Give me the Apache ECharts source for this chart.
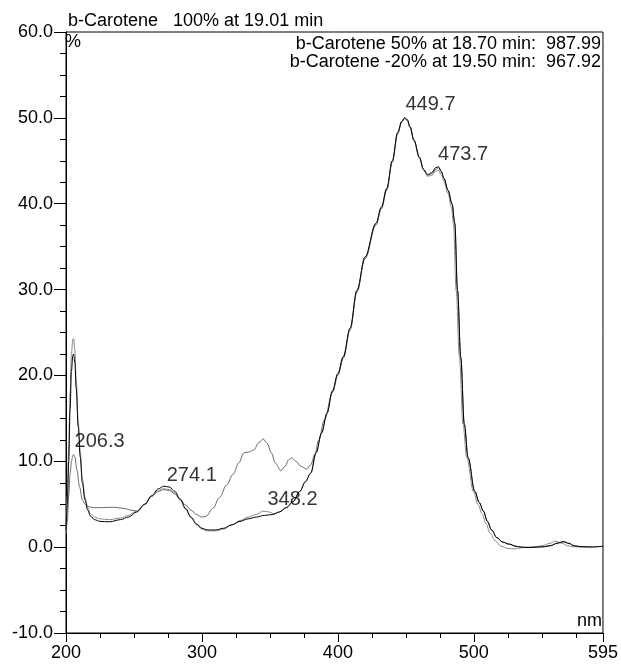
<!DOCTYPE html>
<html>
<head>
<meta charset="utf-8">
<script src="https://cdn.jsdelivr.net/npm/echarts@6/dist/echarts.min.js"></script>
<style>
html,body{margin:0;padding:0;background:#fff;}
#chart{width:621px;height:668px;}
</style>
</head>
<body>
<div id="chart"></div>
<script>
// Wavelength (nm) and absorbance (%) for the three spectra
const aNm  = [200,201,202,203,204,205,205.6,206.5,207.5,209,210.5,212,214,216,218,221,225,232,240,246,252,258,263,268,272,276,280,284,288,292,296,300,304,310,316,322,328,334,340,346,352,357,362,367,372,376,380,384,388,392,396,400,404,409,414,420,428,432,436,440,444,447,449,451,453,456,460,463,466,469,472,474,476,478,481,484,486,488,490.4,493,495.8,500.7,504,507,510,513,517,521,526,531,535,540,546,552,557,561,566,570,574,579,586,595];
const aVal = [2.0,5,10,16,20.5,22.3,22.5,21.5,18.5,14,10.5,7.5,5.5,4.3,3.6,3.2,3.0,2.95,3.2,3.5,4.1,5.0,6.0,6.8,7.1,7.0,6.5,5.6,4.5,3.5,2.7,2.2,2.0,2.0,2.2,2.6,3.0,3.3,3.5,3.7,3.8,4.1,4.6,5.3,6.5,7.6,8.6,11.0,13.3,15.6,18.2,20.2,22.2,25.5,29.9,33.8,37.7,39.6,41.8,45.0,48.3,49.6,50.0,49.8,49.0,47.4,45.4,44.0,43.4,43.6,44.2,44.3,43.8,43.0,41.6,40.0,37.7,29.9,22.1,14.3,10.4,6.5,5.2,4.2,3.0,2.0,1.1,0.6,0.35,0.1,0.0,-0.05,0.0,0.05,0.2,0.45,0.65,0.45,0.15,0.05,0.02,0.1];

const bNm  = [200,201,202,203,204,205,205.6,206.5,207.5,209,210.5,212,214,216,218,221,225,232,240,246,252,258,263,268,272,276,280,284,288,292,296,300,304,310,316,322,328,334,340,345,349,353,357,362,367,372,376,380,384,388,392,396,400,404,409,414,420,428,432,436,440,444,447,449,451,453,456,460,463,466,469,472,474,476,478,481,483.5,485,487,489.4,492,494.8,499.7,503,506,509,512,516,520,525,530,534,539,545,551,556,560,565,569,573,578,586,595];
const bVal = [2.0,6,12,18,22.5,24.2,24.3,23.0,19.5,14.5,11.0,8.0,5.8,4.6,3.9,3.5,3.3,3.2,3.4,3.7,4.2,5.0,5.9,6.6,6.8,6.7,6.3,5.5,4.4,3.4,2.6,2.1,1.9,1.9,2.1,2.6,3.1,3.5,3.8,4.2,4.1,3.9,4.1,4.6,5.3,6.5,7.6,8.6,11.0,13.3,15.6,18.2,20.2,22.2,25.5,29.9,33.8,37.7,39.6,41.8,45.0,48.3,49.6,50.0,49.8,49.0,47.4,45.4,44.0,43.2,43.3,43.8,43.9,43.4,42.6,41.2,39.6,37.7,29.9,22.1,14.3,10.4,6.5,5.0,3.9,2.7,1.6,0.7,0.1,-0.15,-0.2,-0.1,0.0,0.05,0.2,0.45,0.7,0.45,0.15,0.05,0.02,0.1];

const cNm  = [200,201,202,203,204,205,205.6,206.5,208,210,212,214,217,220,226,235,243,248,252,258,263,268,272,276,280,284,288,292,296,300,303,308,313,318,323,327,331,335,338,342,345,348,351,354,358,361,364,366,369,373,377,380,383,386,390,396,400,404,409,414,420,428,432,436,440,444,447,449,451,453,456,460,463,466,469,472,474,476,478,481,484,486,488,490.4,493,495.8,500.7,504,507,510,513,517,521,526,531,535,540,546,552,557,561,566,570,574,579,586,595];
const cVal = [1.5,3,6,8.5,10,10.7,10.8,10.5,9.0,7.0,5.5,5.0,4.7,4.6,4.6,4.65,4.5,4.3,4.2,5.0,5.9,6.5,6.7,6.6,6.2,5.5,4.9,4.3,3.8,3.5,3.6,4.5,5.8,7.2,8.5,9.8,11.0,11.1,11.3,12.2,12.6,12.1,11.0,9.8,8.9,9.4,10.2,10.4,10.0,9.4,9.1,9.6,10.8,12.5,14.8,18.0,20.0,22.0,25.3,29.7,33.6,37.5,39.4,41.6,44.8,48.1,49.5,49.9,49.7,48.9,47.3,45.3,43.9,43.3,43.5,44.0,44.2,43.7,42.9,41.5,39.9,37.7,29.9,22.1,14.3,10.4,6.5,5.2,4.2,3.0,2.0,1.1,0.6,0.35,0.1,0.0,-0.05,0.0,0.05,0.2,0.45,0.6,0.4,0.15,0.05,0.02,0.1];

// Peak annotations: wavelength, label centre height (%)
const peakNm     = [206.3, 274.1, 348.2, 449.7, 473.7];
const peakLabelY = [12.25, 8.4, 5.6, 51.5, 45.7];

// Axis labels
const xLabels = [200, 300, 400, 500, 595];

const FONT = "'Liberation Sans', Arial, sans-serif";
const zip = (xs, ys) => xs.map((x, i) => [x, ys[i]]);

const chart = echarts.init(document.getElementById('chart'));
const lineBase = {type: 'line', showSymbol: false, symbol: 'none', smooth: 0.35, smoothMonotone: 'x', animation: false, z: 3};

chart.setOption({
  animation: false,
  backgroundColor: '#fff',
  grid: {left: 66, right: 17, top: 32, bottom: 35, show: true, borderColor: '#000', borderWidth: 1, backgroundColor: 'transparent'},
  xAxis: [{
    type: 'value', min: 200, max: 595, interval: 100, position: 'bottom',
    axisLine: {show: true, onZero: false, lineStyle: {color: '#000', width: 1}},
    axisTick: {show: true, length: 9, lineStyle: {color: '#000'}},
    axisLabel: {show: true, margin: 11, fontSize: 18, color: '#000', fontFamily: FONT,
      formatter: v => (xLabels.indexOf(v) >= 0 ? String(v) : '')},
    splitLine: {show: false}
  }, {
    type: 'value', min: 200, max: 595, interval: 25, position: 'bottom',
    axisLine: {show: false, onZero: false},
    axisTick: {show: true, length: 5, lineStyle: {color: '#000'}},
    axisLabel: {show: false},
    splitLine: {show: false}
  }],
  yAxis: {
    type: 'value', min: -10, max: 60, interval: 10,
    axisLine: {show: true, onZero: false, lineStyle: {color: '#000', width: 1}},
    axisTick: {show: true, length: 12, lineStyle: {color: '#000'}},
    minorTick: {show: true, splitNumber: 4, length: 6, lineStyle: {color: '#000'}},
    axisLabel: {margin: 13, fontSize: 18, color: '#000', fontFamily: FONT, formatter: v => v.toFixed(1)},
    splitLine: {show: false}
  },
  graphic: [
    {type: 'text', left: 68, top: 12, style: {text: 'b-Carotene   100% at 19.01 min', font: "18px " + FONT, fill: '#000'}},
    {type: 'text', left: 65, top: 33, style: {text: '%', font: "18px " + FONT, fill: '#000'}},
    {type: 'text', right: 20, top: 35, style: {text: 'b-Carotene 50% at 18.70 min:  987.99', font: "18px " + FONT, fill: '#000'}},
    {type: 'text', right: 20, top: 53, style: {text: 'b-Carotene -20% at 19.50 min:  967.92', font: "18px " + FONT, fill: '#000'}},
    {type: 'text', right: 19, top: 612, style: {text: 'nm', font: "18px " + FONT, fill: '#000'}}
  ],
  series: [
    Object.assign({}, lineBase, {name: '-20%', data: zip(cNm, cVal), lineStyle: {color: '#6a6a6a', width: 1}}),
    Object.assign({}, lineBase, {name: '50%', data: zip(bNm, bVal), lineStyle: {color: '#8a8a8a', width: 1}}),
    Object.assign({}, lineBase, {name: '100%', data: zip(aNm, aVal), lineStyle: {color: '#000', width: 1}}),
    {
      type: 'scatter', symbolSize: 0, silent: true, z: 5,
      data: peakNm.map((x, i) => ({value: [x, peakLabelY[i]], name: x.toFixed(1)})),
      label: {show: true, formatter: p => p.name, position: [0, 0], align: 'left', verticalAlign: 'middle',
        fontSize: 20, color: '#000', fontFamily: FONT}
    }
  ]
});
</script>
</body>
</html>
